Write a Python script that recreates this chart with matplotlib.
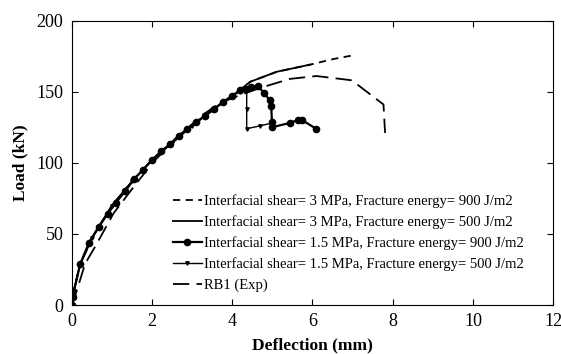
import matplotlib.pyplot as plt

plt.rcParams['font.family'] = ['Liberation Serif', 'DejaVu Serif']

# 1.5 MPa, 900 J/m2 (circles)
x_c = [0, 0.02, 0.21, 0.43, 0.67, 0.89, 1.1, 1.33, 1.55, 1.77, 2.0, 2.22, 2.44,
       2.66, 2.88, 3.1, 3.33, 3.55, 3.78, 3.99, 4.2, 4.35, 4.46, 4.63, 4.8, 4.93,
       4.97, 4.99, 4.99, 5.43, 5.63, 5.74, 6.09]
y_c = [0, 6, 29, 44, 55, 64, 72, 80, 88.5, 95, 102, 108, 113, 119, 124, 129, 133,
       138, 143, 147, 151, 152, 153, 154, 149, 144, 140, 129, 125, 128, 130, 130, 124]

# 1.5 MPa, 500 J/m2
x_t = [0, 0.05, 0.2, 0.5, 1.0, 1.5, 2.0, 2.5, 3.0, 3.5, 4.0, 4.2, 4.36, 4.36, 4.36, 4.7, 4.99]
y_t = [0, 10, 28, 47, 70, 87, 102, 114, 126, 137, 147, 150, 152, 138, 124, 126, 128]

# 3 MPa, 500 J/m2
x_s = [0, 0.05, 0.2, 0.5, 1.0, 1.5, 2.0, 2.5, 3.0, 3.5, 4.0, 4.45, 5.11, 5.94]
y_s = [0, 10, 28, 47, 70, 87, 102, 114, 126, 137, 147, 157, 164, 169]

# 3 MPa, 900 J/m2
x_d = [0, 0.05, 0.2, 0.5, 1.0, 1.5, 2.0, 2.5, 3.0, 3.5, 4.0, 4.45, 5.11, 5.94, 6.53, 7.02]
y_d = [0, 10, 28, 47, 70, 87, 102, 114, 126, 137, 147, 157, 164, 169, 173, 175.6]

# RB1 experiment
x_e = [0, 0.1, 0.33, 0.62, 1.04, 1.54, 2.04, 2.62, 3.2, 3.7, 4.11, 4.69, 5.44,
       6.1, 6.98, 7.77, 7.81]
y_e = [0, 8, 29, 43, 64.5, 83, 101, 117, 132.6, 142, 146.7, 152.6, 159, 161,
       158, 141, 121]

fig = plt.figure(figsize=(5.61, 3.54), dpi=100)
ax = fig.add_axes([0.128, 0.138, 0.858, 0.804])

ax.plot(x_d, y_d, color='black', linestyle=(0, (4, 3)), linewidth=1.3,
        label='Interfacial shear= 3 MPa, Fracture energy= 900 J/m2')
ax.plot(x_s, y_s, color='black', linewidth=1.3,
        label='Interfacial shear= 3 MPa, Fracture energy= 500 J/m2')
ax.plot(x_c, y_c, color='black', linewidth=1.6, marker='o', markersize=4.5,
        label='Interfacial shear= 1.5 MPa, Fracture energy= 900 J/m2')
ax.plot(x_t, y_t, color='black', linewidth=1.0, marker='v', markersize=2.5,
        label='Interfacial shear= 1.5 MPa, Fracture energy= 500 J/m2')
ax.plot(x_e, y_e, color='black', linestyle=(0, (9, 4)), linewidth=1.3,
        label='RB1 (Exp)')

ax.set_xlim(0, 12)
ax.set_ylim(0, 200)
ax.set_xticks(range(0, 13, 2))
ax.set_yticks(range(0, 201, 50))
ax.tick_params(direction='in', top=True, right=True, labelsize=13, length=4, pad=6)
ax.set_xlabel('Deflection (mm)', fontsize=12.5, fontweight='bold', labelpad=5)
ax.set_ylabel('Load (kN)', fontsize=12.5, fontweight='bold', labelpad=6)

ax.legend(loc='upper left', bbox_to_anchor=(0.21, 0.39), frameon=False,
          fontsize=10.5, handlelength=2.0, handletextpad=0.15, labelspacing=0.5,
          borderpad=0, borderaxespad=0)

fig.savefig('out.png', dpi=100)
